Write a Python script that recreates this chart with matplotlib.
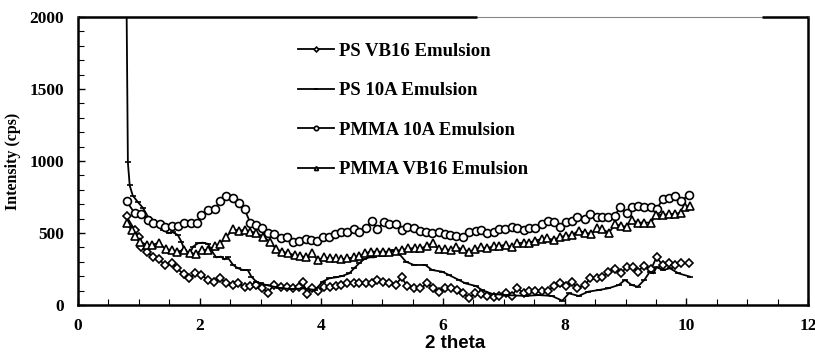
import matplotlib
matplotlib.use("Agg")
import matplotlib.pyplot as plt
from matplotlib.ticker import MultipleLocator

# ---- data ----
x_ps_vb16 = [0.80, 0.93, 1.00, 1.04, 1.14, 1.23, 1.33, 1.43, 1.54, 1.62, 1.74, 1.83, 1.93, 2.03, 2.14, 2.24,
             2.33, 2.44, 2.54, 2.63, 2.74, 2.83, 2.93, 3.03, 3.12, 3.22, 3.34, 3.43, 3.53, 3.63, 3.70, 3.76,
             3.85, 3.94, 4.05, 4.14, 4.24, 4.33, 4.43, 4.54, 4.62, 4.73, 4.83, 4.92, 5.02, 5.11, 5.22, 5.32,
             5.41, 5.52, 5.63, 5.74, 5.84, 5.93, 6.04, 6.13, 6.23, 6.33, 6.43, 6.52, 6.63, 6.72, 6.84, 6.92,
             7.03, 7.13, 7.22, 7.33, 7.42, 7.52, 7.62, 7.73, 7.82, 7.93, 8.02, 8.12, 8.21, 8.33, 8.42, 8.53,
             8.62, 8.72, 8.82, 8.93, 9.02, 9.13, 9.20, 9.30, 9.42, 9.51, 9.61, 9.71, 9.81, 9.91, 10.05]
y_ps_vb16 = [615, 521, 469, 405, 370, 331, 317, 278, 294, 255, 215, 185, 220, 208, 174, 162,
             185, 150, 139, 150, 127, 132, 139, 120, 86, 139, 127, 125, 116, 125, 160, 75,
             120, 100, 127, 127, 132, 139, 150, 155, 150, 150, 150, 174, 162, 155, 139, 192,
             132, 116, 116, 150, 116, 93, 120, 116, 104, 86, 46, 81, 77, 63, 58, 63,
             86, 63, 116, 81, 100, 100, 95, 100, 132, 155, 132, 162, 116, 139, 185, 185,
             192, 231, 248, 225, 262, 266, 231, 271, 248, 331, 278, 294, 278, 294, 289]

x_ps_10a = [0.80, 0.82, 0.85, 0.90, 0.98, 1.07, 1.15, 1.23, 1.31, 1.39, 1.49, 1.56, 1.64, 1.70, 1.75, 1.84,
            1.89, 1.97, 2.05, 2.14, 2.19, 2.27, 2.35, 2.41, 2.46, 2.55, 2.63, 2.71, 2.79, 2.85, 2.93, 3.01,
            3.09, 3.30, 3.50, 3.70, 3.90, 4.02, 4.13, 4.24, 4.34, 4.46, 4.54, 4.62, 4.70, 4.79, 4.87, 4.92,
            5.00, 5.11, 5.17, 5.25, 5.39, 5.52, 5.71, 5.82, 5.99, 6.10, 6.26, 6.37, 6.54, 6.64, 6.81, 7.03,
            7.36, 7.57, 7.79, 7.96, 8.07, 8.23, 8.39, 8.56, 8.72, 8.89, 8.99, 9.10, 9.20, 9.31, 9.40, 9.46,
            9.51, 9.62, 9.73, 9.87, 10.06]
y_ps_10a = [2000, 990, 830, 760, 717, 673, 613, 590, 556, 521, 500, 505, 486, 440, 382, 359,
            405, 428, 433, 424, 382, 331, 336, 317, 331, 278, 255, 243, 243, 197, 162, 150,
            139, 120, 110, 115, 105, 162, 185, 192, 201, 220, 255, 289, 317, 331, 331, 359,
            340, 350, 382, 370, 301, 278, 278, 243, 231, 208, 174, 150, 132, 104, 77, 69,
            63, 69, 63, 30, 81, 63, 93, 104, 116, 139, 174, 139, 127, 174, 231, 220,
            262, 243, 255, 220, 197]

x_pmma_10a = [0.80, 0.93, 1.04, 1.15, 1.23, 1.34, 1.43, 1.54, 1.64, 1.75, 1.85, 1.95, 2.03, 2.14, 2.25, 2.33,
              2.44, 2.54, 2.64, 2.74, 2.83, 2.93, 3.03, 3.12, 3.22, 3.34, 3.43, 3.53, 3.63, 3.74, 3.83, 3.93,
              4.02, 4.13, 4.23, 4.32, 4.43, 4.54, 4.62, 4.73, 4.83, 4.92, 5.03, 5.12, 5.22, 5.32, 5.41, 5.52,
              5.63, 5.72, 5.82, 5.93, 6.03, 6.12, 6.22, 6.33, 6.43, 6.54, 6.63, 6.72, 6.84, 6.92, 7.02, 7.13,
              7.22, 7.33, 7.42, 7.52, 7.62, 7.73, 7.82, 7.93, 8.02, 8.12, 8.21, 8.33, 8.42, 8.53, 8.62, 8.72,
              8.82, 8.91, 9.02, 9.11, 9.20, 9.30, 9.42, 9.51, 9.61, 9.71, 9.81, 9.91, 10.05]
y_pmma_10a = [720, 638, 634, 590, 567, 563, 539, 548, 548, 567, 572, 572, 625, 660, 664, 724,
              757, 741, 706, 664, 572, 555, 535, 502, 493, 463, 474, 440, 445, 455, 450, 447,
              474, 474, 493, 509, 509, 525, 509, 532, 585, 525, 578, 563, 563, 518, 540, 532,
              516, 509, 498, 509, 493, 486, 479, 474, 509, 516, 521, 502, 509, 525, 525, 539,
              532, 521, 532, 532, 560, 585, 578, 539, 578, 585, 609, 594, 632, 609, 609, 609,
              618, 678, 637, 678, 687, 678, 678, 664, 734, 741, 757, 724, 764]

x_pmma_vb16 = [0.80, 0.88, 0.93, 1.02, 1.13, 1.22, 1.33, 1.44, 1.54, 1.63, 1.74, 1.84, 1.94, 2.04, 2.14, 2.25,
               2.33, 2.44, 2.55, 2.65, 2.74, 2.83, 2.93, 3.04, 3.15, 3.26, 3.36, 3.45, 3.56, 3.65, 3.75, 3.85,
               3.94, 4.05, 4.14, 4.24, 4.33, 4.43, 4.54, 4.62, 4.72, 4.81, 4.92, 5.02, 5.11, 5.22, 5.33, 5.43,
               5.54, 5.63, 5.74, 5.84, 5.93, 6.03, 6.13, 6.22, 6.33, 6.43, 6.52, 6.63, 6.72, 6.84, 6.92, 7.03,
               7.13, 7.22, 7.33, 7.42, 7.52, 7.62, 7.71, 7.82, 7.93, 8.02, 8.12, 8.23, 8.33, 8.44, 8.53, 8.62,
               8.73, 8.83, 8.92, 9.02, 9.11, 9.20, 9.30, 9.42, 9.50, 9.61, 9.71, 9.81, 9.91, 9.98, 10.06]
y_pmma_vb16 = [570, 520, 479, 440, 417, 417, 433, 387, 382, 370, 382, 359, 355, 382, 382, 410,
               424, 475, 525, 516, 520, 509, 502, 475, 440, 387, 370, 359, 347, 340, 331, 359,
               312, 331, 324, 324, 317, 324, 331, 340, 359, 370, 370, 370, 370, 377, 382, 393,
               393, 393, 410, 433, 386, 386, 382, 400, 386, 370, 386, 400, 393, 410, 410, 417,
               400, 428, 433, 433, 447, 458, 463, 452, 474, 479, 486, 516, 502, 493, 532, 525,
               502, 563, 548, 544, 590, 572, 572, 572, 625, 625, 632, 632, 641, 678, 690]

labels = ["PS VB16 Emulsion", "PS 10A Emulsion", "PMMA 10A Emulsion", "PMMA VB16 Emulsion"]
x_ticks = [0, 2, 4, 6, 8, 10, 12]
y_ticks = [0, 500, 1000, 1500, 2000]

# ---- figure ----
W, H = 815, 353
fig = plt.figure(figsize=(W / 100, H / 100), dpi=100)
ax = fig.add_axes([78 / W, 1 - 305 / H, 730 / W, 288 / H])

serif = "Liberation Serif"
lw = 1.3
ax.plot(x_ps_vb16, y_ps_vb16, color="black", lw=lw, marker="D", ms=4.4, mfc="white", mec="black", mew=1.2,
        label=labels[0])
ax.plot(x_ps_10a, y_ps_10a, color="black", lw=lw, marker="_", ms=4, mew=1.2, label=labels[1])
ax.plot(x_pmma_10a, y_pmma_10a, color="black", lw=lw, marker="o", ms=5.7, mfc="white", mec="black", mew=1.2,
        label=labels[2])
ax.plot(x_pmma_vb16, y_pmma_vb16, color="black", lw=lw, marker="^", ms=5.2, mfc="white", mec="black", mew=1.2,
        label=labels[3])

ax.set_xlim(0, 12)
ax.set_ylim(0, 2000)
ax.set_xticks(x_ticks)
ax.set_yticks(y_ticks)
ax.xaxis.set_minor_locator(MultipleLocator(0.5))
ax.yaxis.set_minor_locator(MultipleLocator(100))
ax.tick_params(which="both", direction="in", top=False, right=False)
ax.tick_params(which="major", length=5, width=1)
ax.tick_params(axis="y", which="major", pad=10)
ax.tick_params(axis="x", which="major", pad=9)
ax.tick_params(which="minor", length=4, width=0.8)
for lab in ax.get_xticklabels() + ax.get_yticklabels():
    lab.set_fontfamily(serif)
    lab.set_fontweight("bold")
    lab.set_fontsize(12.5)

for s in ["left", "bottom", "right"]:
    ax.spines[s].set_linewidth(1.8)
    ax.spines[s].set_color("black")
ax.spines["top"].set_linewidth(0.8)
ax.spines["top"].set_color("#888888")
# thick segments of the top frame
ax.plot([0, (477 - 78) / 730], [1, 1], transform=ax.transAxes, color="black", lw=1.8, clip_on=False,
        solid_capstyle="butt", zorder=5)
ax.plot([(762 - 78) / 730, 1], [1, 1], transform=ax.transAxes, color="black", lw=1.8, clip_on=False,
        solid_capstyle="butt", zorder=5)

ax.set_ylabel("Intensity (cps)", fontfamily=serif, fontweight="bold", fontsize=11.5, labelpad=6)
ax.set_xlabel("2 theta", fontfamily="Liberation Sans", fontweight="bold", fontsize=13.5)
ax.xaxis.label.set_verticalalignment("baseline")
ax.xaxis.set_label_coords((455 - 78) / 730, (305 - 348) / 288)

leg = ax.legend(loc="upper left", bbox_to_anchor=(289 / W, 1 - 33 / H), bbox_transform=fig.transFigure,
                frameon=False, prop={"family": serif, "weight": "bold", "size": 13.5},
                handlelength=1.9, handletextpad=0.25, labelspacing=1.2, borderpad=0, markerscale=0.55)

fig.savefig("out.png", dpi=100)
